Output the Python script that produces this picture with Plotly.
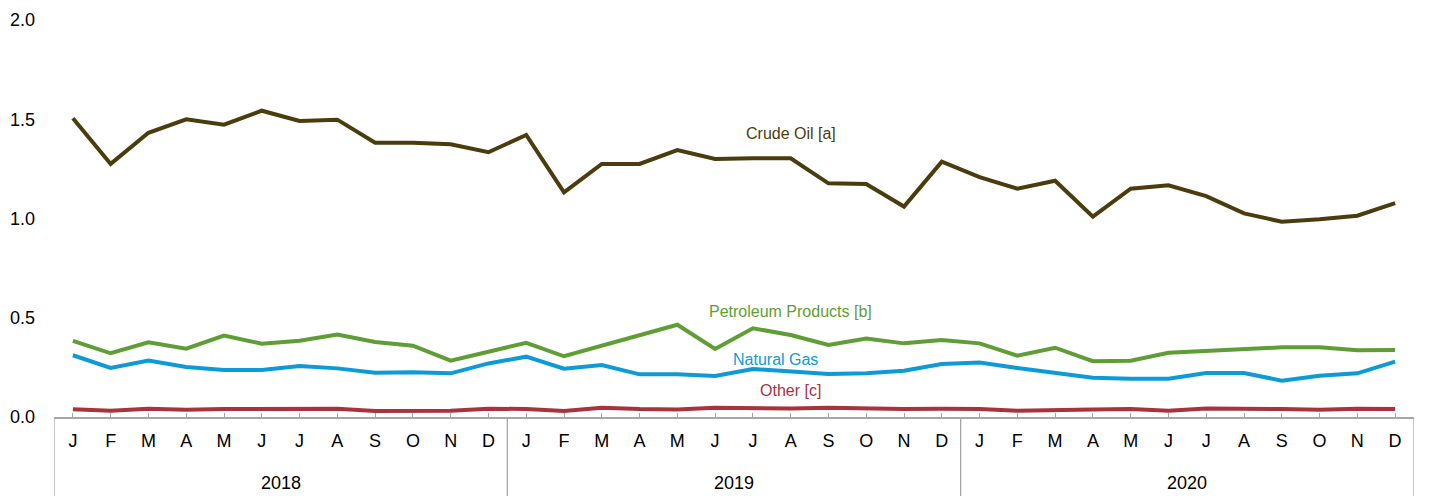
import plotly.graph_objects as go

years = ["2018", "2019", "2020"]
months = ["J", "F", "M", "A", "M", "J", "J", "A", "S", "O", "N", "D"]

crude_oil = [1.505, 1.275, 1.432, 1.500, 1.473, 1.543, 1.491, 1.498, 1.382, 1.382, 1.374, 1.334,
             1.421, 1.132, 1.275, 1.275, 1.345, 1.300, 1.303, 1.303, 1.177, 1.174, 1.060, 1.286,
             1.208, 1.150, 1.190, 1.009, 1.150, 1.167, 1.113, 1.026, 0.984, 0.996, 1.014, 1.077]
petroleum = [0.384, 0.321, 0.376, 0.344, 0.410, 0.369, 0.384, 0.415, 0.378, 0.359, 0.284, 0.327,
             0.374, 0.306, 0.358, 0.413, 0.465, 0.343, 0.447, 0.413, 0.363, 0.395, 0.371, 0.388,
             0.371, 0.309, 0.349, 0.281, 0.284, 0.324, 0.332, 0.343, 0.351, 0.351, 0.336, 0.338]
natural_gas = [0.311, 0.247, 0.284, 0.252, 0.237, 0.237, 0.257, 0.245, 0.223, 0.225, 0.220, 0.270,
               0.304, 0.243, 0.262, 0.215, 0.215, 0.207, 0.242, 0.232, 0.217, 0.220, 0.233, 0.267,
               0.274, 0.247, 0.223, 0.198, 0.193, 0.193, 0.222, 0.222, 0.183, 0.208, 0.220, 0.279]
other = [0.039, 0.032, 0.042, 0.037, 0.040, 0.040, 0.042, 0.042, 0.030, 0.030, 0.032, 0.042,
         0.040, 0.030, 0.047, 0.040, 0.038, 0.047, 0.043, 0.043, 0.047, 0.042, 0.040, 0.042,
         0.040, 0.032, 0.037, 0.038, 0.040, 0.032, 0.043, 0.043, 0.040, 0.037, 0.042, 0.040]

x = list(range(len(years) * len(months)))
tick_text = months * len(years)

# name, values, colour, label position (x, y)
series = [
    ("Crude Oil [a]", crude_oil, "#4a3c0c", 19.0, 1.43),
    ("Petroleum Products [b]", petroleum, "#5f9d35", 19.0, 0.534),
    ("Natural Gas", natural_gas, "#0d9ad9", 18.6, 0.292),
    ("Other [c]", other, "#a8333f", 19.0, 0.136),
]

fig = go.Figure()

for name, vals, color, lx, ly in series:
    fig.add_trace(go.Scatter(
        x=x,
        y=vals,
        mode="lines",
        name=name,
        line=dict(color=color, width=4),
        showlegend=False
    ))
    fig.add_annotation(
        x=lx, y=ly, text=name, showarrow=False,
        font=dict(size=16, color=color), xanchor="center", yanchor="middle"
    )

# year groups below the month ticks
for i, year in enumerate(years):
    fig.add_annotation(
        x=i * 12 + 5.5, y=-0.166, xref="x", yref="paper", text=year,
        showarrow=False, font=dict(size=18, color="#000000"), yanchor="middle"
    )

for i in range(len(years) + 1):
    fig.add_shape(
        type="line", xref="x", yref="paper",
        x0=i * 12 - 0.5, x1=i * 12 - 0.5, y0=0, y1=-0.21,
        line=dict(color="#a6a6a6", width=1.3)
    )

# page body has an 8px margin, so the figure is sized to fit the window
fig.update_layout(
    width=1423,
    height=488,
    margin=dict(l=46, r=17, t=12, b=79),
    paper_bgcolor="white",
    plot_bgcolor="white",
    font=dict(family="Liberation Sans, Arial, sans-serif", color="#000000"),
    xaxis=dict(
        range=[-0.5, 35.5],
        tickmode="array",
        tickvals=x,
        ticktext=tick_text,
        ticks="inside",
        ticklen=4,
        tickcolor="#a6a6a6",
        showline=True,
        linecolor="#a6a6a6",
        linewidth=1.5,
        showgrid=False,
        zeroline=False,
        automargin=False,
        tickfont=dict(size=18),
        ticklabelstandoff=7
    ),
    yaxis=dict(
        range=[0, 2.0],
        tickvals=[0, 0.5, 1.0, 1.5, 2.0],
        tickformat=".1f",
        showgrid=False,
        zeroline=False,
        showline=False,
        automargin=False,
        tickfont=dict(size=18),
        ticklabelstandoff=18
    )
)

fig.write_html("out.html")
